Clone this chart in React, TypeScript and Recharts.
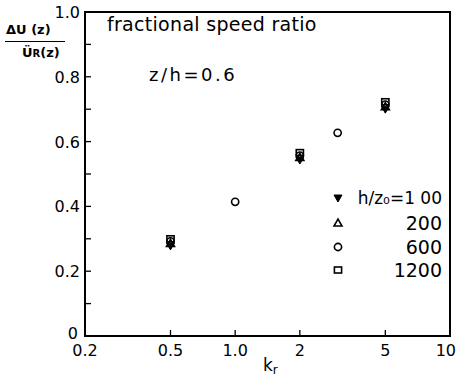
import React from 'react';
import { ScatterChart, Scatter, XAxis, YAxis } from 'recharts';

// fractional speed ratio vs k_r, z/h = 0.6, for four roughness ratios h/z0

const KR_SPARSE = [0.5, 2, 5];
const KR_FULL = [0.5, 1.0, 2, 3, 5];

const H100 = [0.278, 0.543, 0.7];
const H200 = [0.286, 0.551, 0.708];
const H600 = [0.292, 0.414, 0.557, 0.627, 0.714];
const H1200 = [0.3, 0.566, 0.723];

const X_TICKS = [0.2, 0.5, 1, 2, 5, 10];
const X_TICK_LABELS = ['0.2', '0.5', '1.0', '2', '5', '10'];
const Y_TICKS = [0, 0.1, 0.2, 0.3, 0.4, 0.5, 0.6, 0.7, 0.8, 0.9, 1.0];
const Y_TICK_LABELS = ['0', '', '0.2', '', '0.4', '', '0.6', '', '0.8', '', '1.0'];

const LEGEND_LABELS = ['h/z₀=1 00', '200', '600', '1200'];

const FONT = '"DejaVu Sans", "Open Sans", sans-serif';
const INK = '#000';

const toPoints = (xs: number[], ys: number[]) => xs.map((kr, i) => ({ kr, v: ys[i] }));

type Kind = 'down' | 'up' | 'circle' | 'square';

const Marker = ({ cx, cy, kind }: { cx: number; cy: number; kind: Kind }) => {
  const s = 4;
  if (kind === 'down')
    return <path d={`M${cx - s},${cy - s + 1} L${cx + s},${cy - s + 1} L${cx},${cy + s} Z`} fill={INK} stroke={INK} strokeWidth={1} />;
  if (kind === 'up')
    return <path d={`M${cx - s},${cy + s - 1} L${cx + s},${cy + s - 1} L${cx},${cy - s} Z`} fill="none" stroke={INK} strokeWidth={1.6} />;
  if (kind === 'circle') return <circle cx={cx} cy={cy} r={3.6} fill="none" stroke={INK} strokeWidth={1.6} />;
  return <rect x={cx - 3.6} y={cy - 3} width={7.2} height={6} fill="none" stroke={INK} strokeWidth={1.6} />;
};

const shapeOf = (kind: Kind) => (p: any) => <Marker cx={p.cx} cy={p.cy} kind={kind} />;

const BottomTick = (p: any) => {
  const { x, y, payload, index } = p;
  const v = payload.value;
  const edge = v <= 0.2 || v >= 10;
  const last = v >= 10;
  return (
    <g>
      {!edge && <line x1={x} y1={y} x2={x} y2={y - 6} stroke={INK} strokeWidth={1.3} />}
      <text
        x={last ? x + 6 : x}
        y={y + 20}
        textAnchor={last ? 'end' : 'middle'}
        fontSize={16}
        fontFamily={FONT}
        fill={INK}
      >
        {X_TICK_LABELS[index]}
      </text>
    </g>
  );
};

const TopTick = (p: any) => {
  const { x, y, payload } = p;
  const v = payload.value;
  if (v <= 0.2 || v >= 10) return <g />;
  return <line x1={x} y1={y} x2={x} y2={y + 6} stroke={INK} strokeWidth={1.3} />;
};

const LeftTick = (p: any) => {
  const { x, y, index } = p;
  const lbl = Y_TICK_LABELS[index];
  const edge = index === 0 || index === Y_TICKS.length - 1;
  const zero = index === 0;
  return (
    <g>
      {!edge && <line x1={x} y1={y} x2={x + 6} y2={y} stroke={INK} strokeWidth={1.3} />}
      {lbl && (
        <text
          x={zero ? x - 7 : x - 5}
          y={zero ? y + 3 : y + 6}
          textAnchor="end"
          fontSize={16}
          fontFamily={FONT}
          fill={INK}
        >
          {lbl}
        </text>
      )}
    </g>
  );
};

const RightTick = (p: any) => {
  const { x, y, index } = p;
  if (index === 0 || index === Y_TICKS.length - 1) return <g />;
  return <line x1={x} y1={y} x2={x - 6} y2={y} stroke={INK} strokeWidth={1.3} />;
};

const LEGEND_KINDS: Kind[] = ['down', 'up', 'circle', 'square'];
const LEGEND_ROWS_Y = [198, 223, 247, 270];

const edge = (left: number, top: number, width: number, height: number) => (
  <div style={{ position: 'absolute', left, top, width, height, background: INK, zIndex: 5 }} />
);

export default function App() {
  return (
    <div style={{ position: 'absolute', left: 0, top: 0, width: 457, height: 377, background: '#fff', fontFamily: FONT, color: INK }}>
      <ScatterChart width={457} height={377} margin={{ top: 12, right: 7, bottom: 0, left: 0 }}>
        <XAxis
          dataKey="kr"
          type="number"
          scale="log"
          domain={[0.2, 10]}
          ticks={X_TICKS}
          allowDataOverflow
          height={41}
          tickSize={0}
          tickMargin={0}
          axisLine={false}
          tickLine={false}
          tick={<BottomTick />}
          interval={0}
        />
        <XAxis
          xAxisId="top"
          orientation="top"
          dataKey="kr"
          type="number"
          scale="log"
          domain={[0.2, 10]}
          ticks={X_TICKS}
          allowDataOverflow
          height={0}
          tickSize={0}
          tickMargin={0}
          axisLine={false}
          tickLine={false}
          tick={<TopTick />}
          interval={0}
        />
        <YAxis
          dataKey="v"
          type="number"
          domain={[0, 1]}
          ticks={Y_TICKS}
          width={85}
          tickSize={0}
          tickMargin={0}
          axisLine={false}
          tickLine={false}
          tick={<LeftTick />}
          interval={0}
        />
        <YAxis
          yAxisId="right"
          orientation="right"
          type="number"
          domain={[0, 1]}
          ticks={Y_TICKS}
          width={0}
          tickSize={0}
          tickMargin={0}
          axisLine={false}
          tickLine={false}
          tick={<RightTick />}
          interval={0}
        />
        <Scatter data={toPoints(KR_SPARSE, H100)} shape={shapeOf('down')} isAnimationActive={false} />
        <Scatter data={toPoints(KR_SPARSE, H200)} shape={shapeOf('up')} isAnimationActive={false} />
        <Scatter data={toPoints(KR_FULL, H600)} shape={shapeOf('circle')} isAnimationActive={false} />
        <Scatter data={toPoints(KR_SPARSE, H1200)} shape={shapeOf('square')} isAnimationActive={false} />
      </ScatterChart>

      {/* plot frame */}
      {edge(84, 11, 2, 326)}
      {edge(449, 11, 2, 326)}
      {edge(84, 11, 367, 2)}
      {edge(84, 335, 367, 2)}

      {/* annotations */}
      <div style={{ position: 'absolute', left: 107, top: 13, fontSize: 19, whiteSpace: 'nowrap', lineHeight: '22px', letterSpacing: 0.3 }}>fractional speed ratio</div>
      <div style={{ position: 'absolute', left: 149, top: 64, fontSize: 18, whiteSpace: 'nowrap', lineHeight: '22px', letterSpacing: 2.5 }}>z/h=0.6</div>

      {/* y-axis label as a fraction */}
      <div style={{ position: 'absolute', left: 6, top: 22, fontSize: 13, fontWeight: 600, whiteSpace: 'nowrap', lineHeight: '16px' }}>ΔU (z)</div>
      <div style={{ position: 'absolute', left: 5, top: 41, width: 60, borderTop: `1.5px solid ${INK}` }} />
      <div style={{ position: 'absolute', left: 22, top: 45, fontSize: 13, fontWeight: 600, whiteSpace: 'nowrap', lineHeight: '16px' }}>
        Ü<span style={{ fontSize: 10 }}>R</span>(z)
      </div>

      {/* x-axis label */}
      <div style={{ position: 'absolute', left: 263, top: 356, fontSize: 17, whiteSpace: 'nowrap', lineHeight: '18px' }}>
        k<span style={{ fontSize: 12, position: 'relative', top: 3 }}>r</span>
      </div>

      {/* legend */}
      {LEGEND_LABELS.map((lbl, i) => (
        <React.Fragment key={lbl}>
          <svg style={{ position: 'absolute', left: 332, top: LEGEND_ROWS_Y[i] - 6, overflow: 'visible' }} width={12} height={12}>
            <Marker cx={6} cy={6} kind={LEGEND_KINDS[i]} />
          </svg>
          <div
            style={{
              position: 'absolute',
              right: 457 - 442,
              top: LEGEND_ROWS_Y[i] - 12,
              fontSize: i === 0 ? 17 : 19,
              lineHeight: '24px',
              whiteSpace: 'nowrap',
              textAlign: 'right',
            }}
          >
            {lbl}
          </div>
        </React.Fragment>
      ))}
    </div>
  );
}
